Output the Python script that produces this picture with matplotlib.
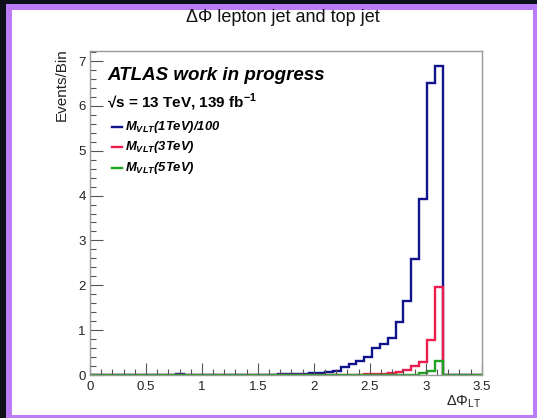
import numpy as np
import matplotlib.pyplot as plt
from matplotlib.patches import Rectangle
from matplotlib.ticker import MultipleLocator, FormatStrFormatter

plt.rcParams['font.family'] = ['Liberation Sans', 'DejaVu Sans']

# Histogram binning: 50 bins between 0 and 3.5
n_bins = 50
x_low, x_high = 0.0, 3.5

# Events per bin, bins 0..49
m1tev_div100 = [0, 0, 0, 0, 0, 0, 0, 0, 0, 0,
                0, 0.02, 0, 0, 0, 0, 0, 0, 0, 0,
                0, 0.01, 0.01, 0.01, 0.02, 0.03, 0.03, 0.03, 0.04, 0.05,
                0.07, 0.09, 0.17, 0.25, 0.31, 0.40, 0.60, 0.69, 0.82, 1.19,
                1.64, 2.58, 3.92, 6.51, 6.90, 0, 0, 0, 0, 0]
m3tev = [0, 0, 0, 0, 0, 0, 0, 0, 0, 0,
         0, 0, 0, 0, 0, 0, 0, 0, 0, 0,
         0, 0, 0, 0, 0, 0, 0, 0, 0, 0,
         0, 0, 0, 0, 0.01, 0.02, 0.02, 0.03, 0.04, 0.06,
         0.11, 0.20, 0.30, 0.78, 1.96, 0, 0, 0, 0, 0]
m5tev = [0, 0, 0, 0, 0, 0, 0, 0, 0, 0,
         0, 0, 0, 0, 0, 0, 0, 0, 0, 0,
         0, 0, 0, 0, 0, 0, 0, 0, 0, 0,
         0, 0, 0, 0, 0, 0, 0, 0, 0, 0,
         0, 0.01, 0.04, 0.09, 0.32, 0, 0, 0, 0, 0]

legend_text = ['M$_{\\mathregular{VLT}}$(1TeV)/100',
               'M$_{\\mathregular{VLT}}$(3TeV)',
               'M$_{\\mathregular{VLT}}$(5TeV)']
colors = ['#10138c', '#ee1c4e', '#1fa320']

edges = np.linspace(x_low, x_high, n_bins + 1)

W, H = 537, 418
fig = plt.figure(figsize=(W / 100, H / 100), dpi=100)
fig.patch.set_facecolor('#0d1117')
# purple frame and white canvas
fig.patches.append(Rectangle((6 / W, 0), 1 - 6 / W, 1 - 4 / H, transform=fig.transFigure,
                             facecolor='#bb7cf7', edgecolor='none', zorder=-2))
fig.patches.append(Rectangle((12 / W, 3 / H), (533 - 12) / W, (415 - 10) / H, transform=fig.transFigure,
                             facecolor='white', edgecolor='none', zorder=-1))

ax = fig.add_axes([90 / W, 1 - 375 / H, (481.7 - 90) / W, (375 - 50.7) / H])
ax.set_facecolor('white')

for vals, c in zip([m1tev_div100, m3tev, m5tev], colors):
    ax.stairs(vals, edges, color=c, linewidth=1.7, baseline=None)

ax.set_xlim(x_low, x_high)
ax.set_ylim(0, 7.23)

ax.xaxis.set_major_locator(MultipleLocator(0.5))
ax.xaxis.set_minor_locator(MultipleLocator(0.1))
ax.yaxis.set_major_locator(MultipleLocator(1))
ax.yaxis.set_minor_locator(MultipleLocator(0.2))
ax.xaxis.set_major_formatter(FormatStrFormatter('%g'))
ax.tick_params(which='both', direction='in', colors='#555555', labelcolor='#222222', labelsize=9.5)
ax.tick_params(which='major', length=9, width=0.8)
ax.tick_params(which='minor', length=4.5, width=0.8)
ax.tick_params(axis='x', pad=4)
ax.tick_params(axis='y', pad=3)
for sp in ax.spines.values():
    sp.set_color('#999999')
    sp.set_linewidth(1.0)

fig.text(283 / W, 1 - 18 / H, 'ΔΦ lepton jet and top jet', ha='center', va='center',
         fontsize=13, color='#111111')
fig.text(62 / W, 1 - 48 / H, 'Events/Bin', rotation=90, ha='center', va='top', fontsize=11, color='#222222')
fig.text(481 / W, 1 - 402 / H, 'ΔΦ$_{\\mathregular{LT}}$', ha='right', va='center', fontsize=10.5, color='#222222')

fig.text(107 / W, 1 - 75 / H, 'ATLAS work in progress',
         fontsize=13.5, fontweight='bold', fontstyle='italic', va='center', ha='left')
fig.text(107 / W, 1 - 102 / H, '√s = 13 TeV, 139 fb$^{\\mathregular{-1}}$',
         fontsize=11, fontweight='bold', va='center', ha='left')

leg_y = [126.7, 147.3, 168.3]
for y, c, t in zip(leg_y, colors, legend_text):
    ax.plot([111.7 / W, 121.7 / W], [1 - y / H, 1 - y / H], transform=fig.transFigure,
            color=c, linewidth=1.7, clip_on=False)
    fig.text(125 / W, 1 - y / H, t, fontsize=9.4, fontweight='bold', fontstyle='italic',
             va='center', ha='left')

fig.savefig('out.png', dpi=100, facecolor=fig.get_facecolor())
